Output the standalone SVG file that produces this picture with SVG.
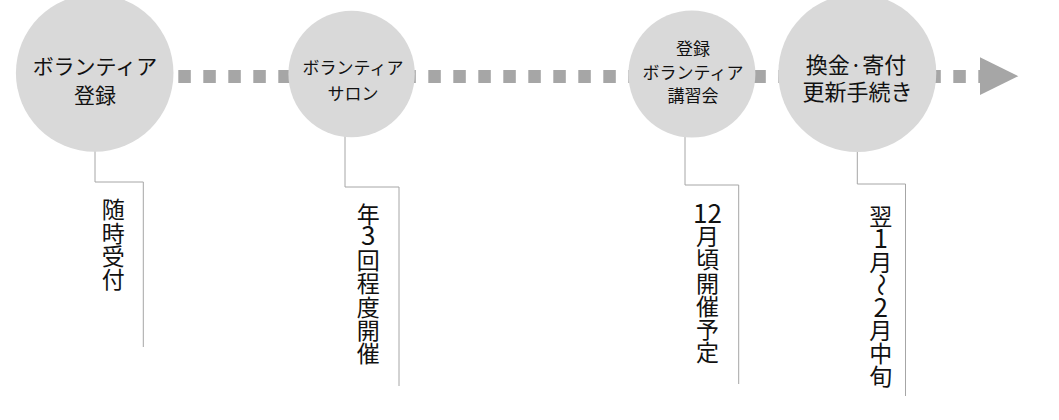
<svg xmlns="http://www.w3.org/2000/svg" width="1059" height="420" viewBox="0 0 1059 420">
  <style>
    .node { fill: #d9d9d9; }
    .lbl { font-family: "Noto Sans CJK JP", "Noto Sans", sans-serif; fill: #111; text-anchor: middle; }
    .note { font-family: "Noto Sans CJK JP", "Noto Sans", sans-serif; fill: #111; text-anchor: middle; font-size: 23px; }
    .dg { font-size: 26px; }
    .elbow { fill: none; stroke: #a6a6a6; stroke-width: 1; }
    .flow { fill: none; stroke: #a6a6a6; stroke-width: 13; stroke-dasharray: 12.5 12.5; }
    .head { fill: #a6a6a6; }
  </style>
  <rect width="1059" height="420" fill="#ffffff"/>
  <g id="connectors">
    <line class="flow" x1="178.3" y1="76.4" x2="983" y2="76.4"/>
    <polygon class="head" points="980,57.3 1018.3,76.2 980,95"/>
    <polyline class="elbow" points="95,150 95,182 143.3,182 143.3,347"/>
    <polyline class="elbow" points="345,135 345,187 399,187 399,386"/>
    <polyline class="elbow" points="685,135 685,185 738.7,185 738.7,384"/>
    <polyline class="elbow" points="857.3,150 857.3,184 905.5,184 905.5,396"/>
  </g>
  <g id="node-1">
    <circle class="node" cx="94.7" cy="73" r="78.8"/>
    <text class="lbl" font-size="21" x="95" y="74">ボランティア</text>
    <text class="lbl" font-size="21" x="95" y="103">登録</text>
  </g>
  <g id="node-2">
    <circle class="node" cx="351.6" cy="74" r="63.2"/>
    <text class="lbl" font-size="17" x="353" y="73.5">ボランティア</text>
    <text class="lbl" font-size="17" x="353" y="99.5">サロン</text>
  </g>
  <g id="node-3">
    <circle class="node" cx="691.9" cy="74" r="63.5"/>
    <text class="lbl" font-size="17" x="693" y="54.5">登録</text>
    <text class="lbl" font-size="17" x="693" y="78.5">ボランティア</text>
    <text class="lbl" font-size="17" x="693" y="102">講習会</text>
  </g>
  <g id="node-4">
    <circle class="node" cx="857.3" cy="73" r="79"/>
    <text class="lbl" font-size="22" x="856" y="73.4">換金·寄付</text>
    <text class="lbl" font-size="22" x="857.5" y="100.4">更新手続き</text>
  </g>
  <g id="note-1">
    <text class="note"><tspan x="113.3" y="218.4">随</tspan><tspan x="113.3" y="241.5">時</tspan><tspan x="113.3" y="264.6">受</tspan><tspan x="113.3" y="287.7">付</tspan></text>
  </g>
  <g id="note-2">
    <text class="note"><tspan x="368.3" y="222.7">年</tspan><tspan class="dg" x="368.3" y="245.3">3</tspan><tspan x="368.3" y="269.1">回</tspan><tspan x="368.3" y="292.3">程</tspan><tspan x="368.3" y="315.5">度</tspan><tspan x="368.3" y="338.7">開</tspan><tspan x="368.3" y="361.9">催</tspan></text>
  </g>
  <g id="note-3">
    <text class="note"><tspan class="dg" x="707.5" y="222.5">12</tspan><tspan x="707.5" y="245.2">月</tspan><tspan x="707.5" y="268.4">頃</tspan><tspan x="707.5" y="291.6">開</tspan><tspan x="707.5" y="314.8">催</tspan><tspan x="707.5" y="338">予</tspan><tspan x="707.5" y="361.2">定</tspan></text>
  </g>
  <g id="note-4">
    <text class="note"><tspan x="880.8" y="225">翌</tspan><tspan class="dg" x="880.8" y="248">1</tspan><tspan x="880.8" y="270.6">月</tspan><tspan x="884.3" y="273.2" rotate="90">～</tspan><tspan class="dg" x="880.8" y="316.5">2</tspan><tspan x="880.8" y="339">月</tspan><tspan x="880.8" y="361.8">中</tspan><tspan x="880.8" y="384.6">旬</tspan></text>
  </g>
</svg>
